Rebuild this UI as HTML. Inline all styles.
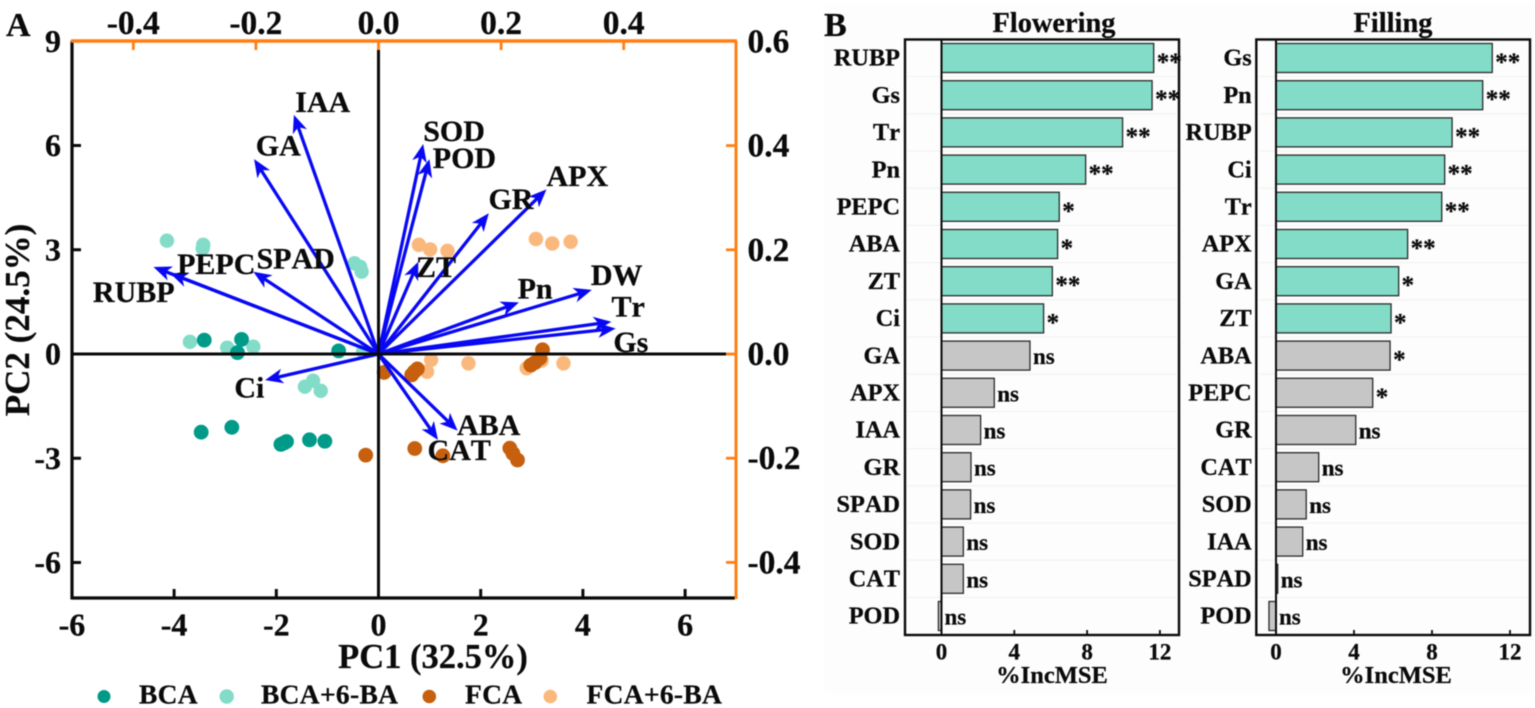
<!DOCTYPE html>
<html lang="en">
<head>
<meta charset="utf-8">
<title>PCA biplot and random forest importance</title>
<style>
html,body{margin:0;padding:0;background:#fff;}
svg{display:block;filter:blur(0.4px);}
text{font-family:"Liberation Serif",serif;font-weight:bold;fill:#0a0a0a;font-kerning:none;stroke:#0a0a0a;stroke-width:0.25px;}
</style>
</head>
<body>
<svg id="fig" xmlns="http://www.w3.org/2000/svg" width="1535" height="708" viewBox="0 0 1535 708">
  <rect x="0" y="0" width="1535" height="708" fill="#ffffff"/>
  <rect x="824" y="4" width="711" height="690" fill="#fdfdfd"/>
  <g id="panelA"></g>
  <g id="panelB"></g>
  <text x="6" y="36" font-size="34">A</text>
  <text x="824" y="36" font-size="34">B</text>
  <text x="433" y="668" font-size="34.5" text-anchor="middle">PC1 (32.5%)</text>
  <text transform="translate(29,320) rotate(-90)" font-size="35" text-anchor="middle">PC2 (24.5%)</text>
  <text x="1054" y="32" font-size="28.4" text-anchor="middle">Flowering</text>
  <text x="1393" y="32" font-size="28.4" text-anchor="middle">Filling</text>
  <text x="1052" y="683" font-size="24.5" text-anchor="middle">%IncMSE</text>
  <text x="1396" y="683" font-size="24.5" text-anchor="middle">%IncMSE</text>
</svg>
<script>
// ---- Panel A data ----
const pc1Ticks = ['-6', '-4', '-2', '0', '2', '4', '6'];
const pc2Ticks = ['-6', '-3', '0', '3', '6', '9'];
const loadingXTicks = ['-0.4', '-0.2', '0.0', '0.2', '0.4'];
const loadingYTicks = ['-0.4', '-0.2', '0.0', '0.2', '0.4', '0.6'];

const bcaPc1 = [-3.41, -2.68, -2.76, -0.78, -3.47, -2.87, -1.91, -1.85, -1.80, -1.35, -1.05];
const bcaPc2 = [0.40, 0.42, 0.04, 0.09, -2.25, -2.11, -2.60, -2.56, -2.52, -2.47, -2.51];
const bcaBaPc1 = [-4.14, -3.43, -3.44, -0.47, -0.36, -0.33, -3.69, -2.96, -2.45, -0.30, -1.44, -1.28, -1.13];
const bcaBaPc2 = [3.26, 3.14, 3.04, 2.61, 2.51, 2.37, 0.35, 0.18, 0.21, 0.07, -0.94, -0.77, -1.06];
const fcaBaPc1 = [0.79, 1.01, 1.35, 3.08, 3.40, 3.76, 1.03, 0.95, 1.76, 2.90, 3.19, 3.62];
const fcaBaPc2 = [3.14, 3.01, 2.97, 3.31, 3.18, 3.23, -0.17, -0.51, -0.27, -0.41, -0.19, -0.27];
const fcaPc1 = [-0.25, 0.11, 0.65, 0.70, 0.76, 0.71, 1.26, 2.57, 2.63, 2.72, 2.98, 3.06, 3.16, 3.21];
const fcaPc2 = [-2.91, -0.53, -0.60, -0.51, -0.43, -2.72, -2.93, -2.71, -2.86, -3.05, -0.32, -0.25, -0.12, 0.12];

const loadingNames = ['RUBP', 'PEPC', 'SPAD', 'GA', 'IAA', 'SOD', 'POD', 'GR', 'APX', 'ZT', 'Pn', 'DW', 'Tr', 'Gs', 'Ci', 'ABA', 'CAT'];
const loadingX = [-0.367, -0.340, -0.204, -0.203, -0.138, 0.073, 0.083, 0.180, 0.274, 0.065, 0.229, 0.348, 0.380, 0.387, -0.185, 0.129, 0.097];
const loadingY = [0.167, 0.155, 0.158, 0.374, 0.459, 0.403, 0.374, 0.270, 0.316, 0.177, 0.099, 0.123, 0.062, 0.049, -0.050, -0.147, -0.165];

const legendNames = ['BCA', 'BCA+6-BA', 'FCA', 'FCA+6-BA'];

// ---- Panel B data ----
const flowerCategories = ['RUBP', 'Gs', 'Tr', 'Pn', 'PEPC', 'ABA', 'ZT', 'Ci', 'GA', 'APX', 'IAA', 'GR', 'SPAD', 'SOD', 'CAT', 'POD'];
const flowerValues = [11.66, 11.57, 9.95, 7.92, 6.47, 6.38, 6.09, 5.61, 4.86, 2.90, 2.15, 1.62, 1.60, 1.20, 1.20, -0.17];
const flowerSig = ['**', '**', '**', '**', '*', '*', '**', '*', 'ns', 'ns', 'ns', 'ns', 'ns', 'ns', 'ns', 'ns'];
const fillCategories = ['Gs', 'Pn', 'RUBP', 'Ci', 'Tr', 'APX', 'GA', 'ZT', 'ABA', 'PEPC', 'GR', 'CAT', 'SOD', 'IAA', 'SPAD', 'POD'];
const fillValues = [11.09, 10.60, 9.03, 8.65, 8.50, 6.75, 6.29, 5.90, 5.85, 4.96, 4.09, 2.19, 1.55, 1.37, 0.09, -0.36];
const fillSig = ['**', '**', '**', '**', '**', '**', '*', '*', '*', '*', 'ns', 'ns', 'ns', 'ns', 'ns', 'ns'];
const importanceTicks = ['0', '4', '8', '12'];

const NS = 'http://www.w3.org/2000/svg';
function make(tag, parent, props) {
  const el = document.createElementNS(NS, tag);
  for (const k in props) el.setAttribute(k, props[k]);
  parent.appendChild(el);
  return el;
}

// ---- Panel A axis functions ----
const xPC = v => 378.5 + 51.1 * v;
const yPC = v => 354 - 34.75 * v;
const xLoad = v => 378.5 + 613 * v;
const yLoad = v => 354 - 521 * v;

const ORANGE = '#ff7f14';
const BLUE = '#0808f4';
const panelA = document.getElementById('panelA');

function drawGroup(xs, ys, color, name, r) {
  const g = make('g', panelA, {});
  
  
  xs.forEach((x, i) => {
    const c = make('circle', g, { cx: xPC(x), cy: yPC(ys[i]), r: r, fill: color });
    
    
  });
}
drawGroup(fcaBaPc1, fcaBaPc2, '#fbb87c', 'fca-6ba', 7.2);
drawGroup(bcaBaPc1, bcaBaPc2, '#82dcc8', 'bca-6ba', 7.2);
drawGroup(bcaPc1, bcaPc2, '#009a88', 'bca', 7.4);
drawGroup(fcaPc1, fcaPc2, '#c6600e', 'fca', 7.4);

// arrows
const arrowGroup = make('g', panelA, {});


loadingNames.forEach((name, i) => {
  const x0 = xLoad(0), y0 = yLoad(0);
  const tx = xLoad(loadingX[i]), ty = yLoad(loadingY[i]);
  const len = Math.hypot(tx - x0, ty - y0);
  const ux = (tx - x0) / len, uy = (ty - y0) / len;
  const px = -uy, py = ux;
  const line = make('line', arrowGroup, {
    x1: x0, y1: y0, x2: tx - ux * 11, y2: ty - uy * 11,
    stroke: BLUE, 'stroke-width': 3.3
  });
  
  
  const pts = [
    [tx, ty],
    [tx - ux * 18 + px * 7.5, ty - uy * 18 + py * 7.5],
    [tx - ux * 13, ty - uy * 13],
    [tx - ux * 18 - px * 7.5, ty - uy * 18 - py * 7.5]
  ].map(p => p[0].toFixed(1) + ',' + p[1].toFixed(1)).join(' ');
  const head = make('polygon', arrowGroup, { points: pts, fill: BLUE });
  
  
});

// frame and zero lines
function axisLine(name, x1, y1, x2, y2, color, w) {
  const l = make('line', panelA, { x1, y1, x2, y2, stroke: color, 'stroke-width': w });
  
  
}
axisLine('zero-line-vertical', xPC(0), 50, xPC(0), 598, '#0a0a0a', 3);
axisLine('zero-line-horizontal', 72, yPC(0), 726, yPC(0), '#0a0a0a', 3);
axisLine('left-axis', 72, 41, 72, 599.5, '#0a0a0a', 3.2);
axisLine('bottom-axis', 72, 598, 735, 598, '#0a0a0a', 3.2);
axisLine('top-axis', 71, 41, 737, 41, ORANGE, 3.4);
axisLine('right-axis', 736, 41, 736, 599, ORANGE, 3);

// ticks + tick labels
pc1Ticks.forEach(t => {
  const v = parseFloat(t), x = xPC(v);
  if (v !== -6 && v !== 0) axisLine('x-tick', x, 589, x, 598, '#0a0a0a', 3);
  const el = make('text', panelA, { x: x, y: 635.5, 'font-size': 32, 'text-anchor': 'middle' });
  el.textContent = t;
  
  
});
pc2Ticks.forEach(t => {
  const v = parseFloat(t), y = yPC(v);
  if (v !== 9 && v !== 0) axisLine('y-tick', 72, y, 81, y, '#0a0a0a', 3);
  const el = make('text', panelA, { x: 61, y: y + 10.5, 'font-size': 32, 'text-anchor': 'end' });
  el.textContent = t;
  
  
});
loadingXTicks.forEach(t => {
  const x = xLoad(parseFloat(t));
  axisLine('top-tick', x, 41, x, 50, ORANGE, 2.8);
  const el = make('text', panelA, { x: x, y: 34, 'font-size': 33.5, 'text-anchor': 'middle' });
  el.textContent = t;
  
  
});
loadingYTicks.forEach(t => {
  const y = yLoad(parseFloat(t));
  if (parseFloat(t) !== 0.6) axisLine('right-tick', 726, y, 736, y, ORANGE, 2.8);
  const el = make('text', panelA, { x: 747.5, y: y + 11, 'font-size': 33.5 });
  el.textContent = t;
  
  
});

// loading labels, anchored to the arrow tips
function labelOffset(name) {
  switch (name) {
    case 'RUBP': return [-60.6, 35];
    case 'PEPC': return [7, 1];
    case 'SPAD': return [3, -3.4];
    case 'GA': return [1.7, -3.6];
    case 'IAA': return [1.3, -2.7];
    case 'SOD': return [0, -3];
    case 'POD': return [3.4, 9];
    case 'GR': return [-0.4, -4.3];
    case 'APX': return [0, -3.6];
    case 'ZT': return [-2.3, 15];
    case 'Pn': return [-1.3, -4];
    case 'DW': return [-1, -5];
    case 'Tr': return [0, -5];
    case 'Gs': return [-2.4, 23.4];
    case 'Ci': return [-30.7, 17.3];
    case 'ABA': return [-0.6, 4.3];
    case 'CAT': return [-10.4, 20];
  }
  return [0, 0];
}
loadingNames.forEach((name, i) => {
  const off = labelOffset(name);
  const el = make('text', panelA, {
    x: xLoad(loadingX[i]) + off[0],
    y: yLoad(loadingY[i]) + off[1],
    'font-size': 30
  });
  el.textContent = name;
  
  
});

// legend
function legendEntry(i, mx, mr, color, tx) {
  const g = make('g', panelA, {});
  
  
  const c = make('circle', g, { cx: mx, cy: 696.5, r: mr, fill: color });
  
  
  const t = make('text', g, { x: tx, y: 703.5, 'font-size': 27.5, 'letter-spacing': 0.3 });
  t.textContent = legendNames[i];
  
  
}
legendEntry(0, 104, 6.5, '#009a88', 139);
legendEntry(1, 226.7, 7.2, '#82dcc8', 261);
legendEntry(2, 429.3, 6.8, '#c6600e', 465);
legendEntry(3, 550.3, 6.8, '#fbb87c', 586.5);

// ---- Panel B ----
const panelB = document.getElementById('panelB');
const rowY = i => 58 + 37.2 * i;
const BAR_H = 29;

function drawImportance(opts) {
  const g = make('g', panelB, {});
  
  
  const xv = v => opts.zero + opts.scale * v;

  // faint row lines
  opts.categories.forEach((c, i) => {
    if (i === 0) return;
    const l = make('line', g, {
      x1: opts.left + 2, x2: opts.right - 2, y1: rowY(i) - 18.6, y2: rowY(i) - 18.6,
      stroke: '#f1f1f1', 'stroke-width': 1
    });
    
    
  });

  // bars
  opts.values.forEach((v, i) => {
    const sig = opts.sig[i];
    const teal = opts.highlight[i];
    const x0 = Math.min(xv(0), xv(v)), w = Math.abs(xv(v) - xv(0));
    const b = make('rect', g, {
      x: x0, y: rowY(i) - BAR_H / 2, width: w, height: BAR_H,
      fill: teal ? '#82dcc8' : '#c6c6c6', stroke: '#2a2a2a', 'stroke-width': 1.3
    });
    
    

    const isNs = sig === 'ns';
    const t = make('text', g, {
      x: xv(Math.max(v, 0)) + 3,
      y: rowY(i) + (isNs ? 8.5 : 12),
      'font-size': isNs ? 23 : 25
    });
    t.textContent = sig;
    
    

    const cat = make('text', g, { x: opts.labelX, y: rowY(i) + 7.7, 'font-size': 24.3, 'text-anchor': 'end' });
    cat.textContent = opts.categories[i];
    
    
  });

  // zero line
  const z = make('line', g, { x1: xv(0), x2: xv(0), y1: 39, y2: 635, stroke: '#0a0a0a', 'stroke-width': 2 });
  
  

  // frame
  const f = make('rect', g, {
    x: opts.left, y: 39.5, width: opts.right - opts.left, height: 595.5,
    fill: 'none', stroke: '#0a0a0a', 'stroke-width': 2.4
  });
  
  

  // ticks
  importanceTicks.forEach(t => {
    const x = xv(parseFloat(t));
    const tk = make('line', g, { x1: x, x2: x, y1: 630, y2: 635, stroke: '#0a0a0a', 'stroke-width': 1.8 });
    
    
    const lb = make('text', g, { x: x, y: 659.5, 'font-size': 23, 'text-anchor': 'middle' });
    lb.textContent = t;
    
    
  });
}

drawImportance({
  name: 'flowering', categories: flowerCategories, values: flowerValues, sig: flowerSig,
  highlight: flowerSig.map(s => s !== 'ns'),
  zero: 941.5, scale: 18.2, left: 905, right: 1179, labelX: 900
});
drawImportance({
  name: 'filling', categories: fillCategories, values: fillValues, sig: fillSig,
  highlight: fillSig.map((s, i) => s !== 'ns' && i < 8),
  zero: 1276, scale: 19.5, left: 1256.3, right: 1530, labelX: 1251.7
});
</script>
</body>
</html>
